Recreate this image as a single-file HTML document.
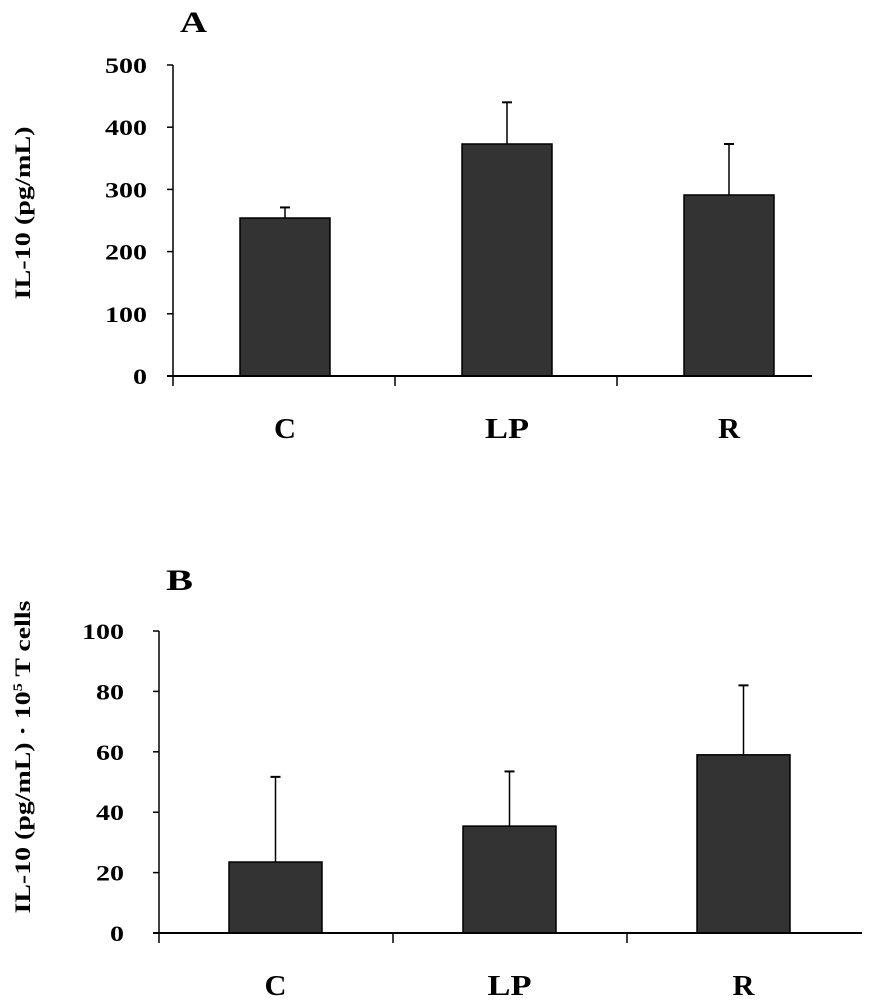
<!DOCTYPE html>
<html><head><meta charset="utf-8"><style>
html,body{margin:0;padding:0;background:#fff;}
svg{display:block;font-family:"Liberation Serif",serif;font-weight:bold;}
</style></head><body>
<svg id="chart" width="873" height="1000" viewBox="0 0 873 1000" xmlns="http://www.w3.org/2000/svg"></svg>
<script>
const categories = ["C", "LP", "R"];
const valuesA = [254, 373, 291];
const errorsA = [271, 440, 373];
const ticksA = [0, 100, 200, 300, 400, 500];
const valuesB = [23.5, 35.4, 59];
const errorsB = [51.7, 53.5, 82];
const ticksB = [0, 20, 40, 60, 80, 100];

const NS = "http://www.w3.org/2000/svg";
const svg = document.getElementById("chart");
function mk(tag, attrs, parent, text) {
  const e = document.createElementNS(NS, tag);
  for (const k in attrs) e.setAttribute(k, attrs[k]);
  if (text !== undefined) e.textContent = text;
  (parent || svg).appendChild(e);
  return e;
}

function panel(cfg) {
  const g = mk("g", {});
  
  
  const y = v => cfg.y0 - (v - cfg.min) / (cfg.max - cfg.min) * (cfg.y0 - cfg.y1);
  const band = cfg.band;
  const bx = i => cfg.x0 + band * i + cfg.barOff;
  const lt = mk("text", {x: cfg.letterX, y: cfg.letterY, "font-size": 30, fill: "#000", textLength: 27, lengthAdjust: "spacingAndGlyphs"}, g, cfg.letter);
  
  
  const yt = mk("text", {x: 0, y: 0, "font-size": 22, "text-anchor": "middle", fill: "#000",
    textLength: cfg.titleLen, lengthAdjust: "spacingAndGlyphs",
    transform: `translate(30,${cfg.titleY}) rotate(-90)`}, g);
  
  
  yt.innerHTML = cfg.title;
  cfg.vals.forEach((v, i) => {
    const cx = bx(i) + cfg.barW / 2;
    const eb = mk("line", {x1: cx, x2: cx, y1: y(cfg.errs[i]), y2: y(v), stroke: "#000", "stroke-width": 1.5}, g);
    
    
    const cap = mk("line", {x1: cx - 5, x2: cx + 5, y1: y(cfg.errs[i]), y2: y(cfg.errs[i]), stroke: "#000", "stroke-width": 2}, g);
    
    
    const r = mk("rect", {x: bx(i), y: y(v), width: cfg.barW, height: cfg.y0 - y(v), fill: "#333", stroke: "#000", "stroke-width": 1.5}, g);
    
    
    const lb = mk("text", {x: cx, y: cfg.catY, "font-size": 28, "text-anchor": "middle", fill: "#000",
      textLength: cfg.cats[i].length * 22, lengthAdjust: "spacingAndGlyphs"}, g, cfg.cats[i]);
    
    
  });
  const ya = mk("line", {x1: cfg.x0, x2: cfg.x0, y1: y(cfg.max), y2: cfg.y0 + 10, stroke: "#000", "stroke-width": 1.5}, g);
  
  
  const xa = mk("line", {x1: cfg.x0 - 6, x2: cfg.xEnd, y1: cfg.y0, y2: cfg.y0, stroke: "#000", "stroke-width": 2}, g);
  
  
  for (let i = 1; i < cfg.cats.length; i++) {
    const t = mk("line", {x1: cfg.x0 + band * i, x2: cfg.x0 + band * i, y1: cfg.y0, y2: cfg.y0 + 10, stroke: "#000", "stroke-width": 1.5}, g);
    
    
  }
  cfg.ticks.forEach(tv => {
    const t = mk("line", {x1: cfg.x0 - 6, x2: cfg.x0, y1: y(tv), y2: y(tv), stroke: "#000", "stroke-width": 1.5}, g);
    
    
    const s = String(tv);
    const l = mk("text", {x: cfg.labelX, y: y(tv) + 8, "font-size": 22, "text-anchor": "end", fill: "#000",
      textLength: s.length * 14, lengthAdjust: "spacingAndGlyphs"}, g, s);
    
    
  });
}

panel({name: "panel-a", letter: "A", letterX: 180, letterY: 32, cats: categories, vals: valuesA, errs: errorsA,
  ticks: ticksA, min: 0, max: 500, y0: 376, y1: 65, x0: 173, band: 222, xEnd: 812, barOff: 67, barW: 90,
  labelX: 147, catY: 438, titleY: 213, titleLen: 173, title: "IL-10 (pg/mL)"});
panel({name: "panel-b", letter: "B", letterX: 166, letterY: 590, cats: categories, vals: valuesB, errs: errorsB,
  ticks: ticksB, min: 0, max: 100, y0: 933, y1: 631, x0: 159, band: 234, xEnd: 862, barOff: 70, barW: 93,
  labelX: 124, catY: 995, titleY: 757, titleLen: 313, title: "IL-10 (pg/mL) · 10<tspan font-size='13' dy='-8'>5</tspan><tspan dy='8'> T cells</tspan>"});
</script>
</body></html>
